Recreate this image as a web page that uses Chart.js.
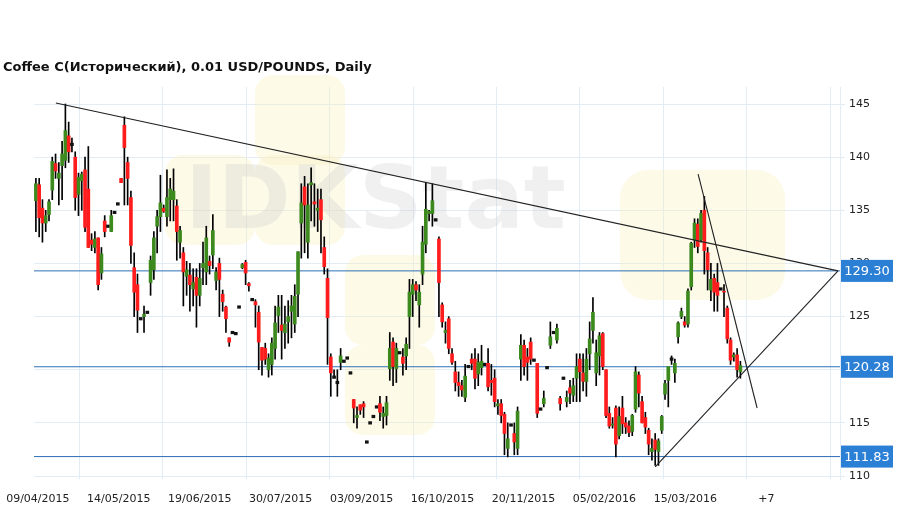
<!DOCTYPE html>
<html><head><meta charset="utf-8">
<script src="https://cdn.jsdelivr.net/npm/chart.js@4"></script>
<style>
html,body{margin:0;padding:0;background:#fff;}
#wrap{position:absolute;left:0;top:0;width:909px;height:509px;}
#title{position:absolute;left:3px;top:59px;font:bold 13px "DejaVu Sans",sans-serif;color:#111;}
</style></head><body>
<div id="wrap"><canvas id="c" width="909" height="509"></canvas></div>
<div id="title">Coffee C(Исторический), 0.01 USD/POUNDS, Daily</div>
<script>
const opens=[135.9,137.4,135.2,133.8,134.6,136.9,139.4,138,139.2,139.7,
142,141.2,140,136.5,137.8,138.8,137,132.2,131.5,132.4,
129.1,134,133.5,133,134.8,135.6,138,143,139.5,136.2,
129.6,128,124.8,125,125.4,128.2,129.4,133.5,134.4,135.2,
134.4,136,136,135.4,132,131,128.8,128.9,127.6,128.7,
127,129.6,129.2,130.2,130.8,128.4,130,127.1,125.9,123,
123.5,123.4,125.9,129.6,130.1,128.1,126.6,126.4,125.4,122.1,
122,120,120.5,122,125.1,124.2,123.5,124.5,125.5,124.3,
127.1,133.8,137.2,132,137.4,135.8,135,136,131.5,128.6,
121.2,119.3,118.8,120.7,120.8,121.1,119.7,117.2,115.5,116.7,
116.8,113.2,115,115.6,116.5,116.8,115.6,115.7,120.1,122.6,
120.1,121.6,121.2,121.3,125,127.1,128,126.1,129,131.8,
134.7,134.7,134.1,132.3,126.1,123.5,124.8,121.5,119.8,118.8,
118.5,117.4,120.3,121,121,119.6,120.2,120.5,120.6,119,
119.2,116.6,116.8,115.8,112.6,114.8,114,112.6,121,122.3,
121.2,122.6,120.9,120.6,116.3,116.8,120.2,122.3,123.5,122.8,
117.3,119.2,117,118.3,117.6,119.2,121,119.7,118.9,121.5,
123.7,119.7,121.3,123.4,120,115.9,114.8,116.4,113.8,116.4,
115,114.7,114.2,116.3,119.5,117,115.5,114.3,112.3,113.4,
112.3,114.3,117.7,119,121,119.7,123.1,125,124.5,124.3,
127.8,132.2,133.7,132.2,135,131,127.5,128.6,128.2,127.6,
127.4,125.8,122.8,121.2,121.4,119.8];
const closes=[137.5,134.3,133.8,134.5,135.8,139.6,138.7,138.5,140.3,142.5,
140.5,141.2,136.2,138.1,138.4,133.4,131.5,131.8,132.3,128,
130.9,133,133.5,134.5,134.8,135.6,137.6,140.9,138,131.7,
127.3,125.6,124.8,125.2,125.4,130.3,132.4,134.4,135.7,134.9,
136.2,137,136.8,133,133.1,129.2,129.4,128,128.2,127,
128.6,130,132.4,129.8,133.1,129.2,128.5,126.4,124.8,122.6,
123.5,123.4,125.9,129.9,129.1,127.9,126.6,126.1,122.6,120.9,
121,121.1,122.5,124.4,125.9,123.7,124.3,125,126,126.9,
131.1,135.7,135.5,135.5,137.6,135.6,135.2,134.1,129.7,124.9,
119.7,119.3,118.8,121.3,120.8,121.1,119.7,116.4,115.7,116.2,
116.5,113.2,115,115.6,116.5,116,115.9,116.9,122,120.3,
122,121.6,120.6,122.4,127.3,128,127.5,127.3,132,135.1,
134.9,135.9,134.1,128.2,124.5,123.7,122,120.7,118.8,118.5,
118.1,119.4,120.3,120.6,119.2,120.7,120.8,120.5,118.4,118.8,
117,116.8,115.7,114,113.5,114.8,113.2,116.1,122.3,120.3,
120.7,121,120.9,115.9,116.3,117.3,120.2,123.1,123.5,123.9,
116.8,119.2,117.4,117.8,118.5,120.3,119.8,118.9,121,122.9,
125.4,121.6,123.2,120.3,115.7,114.7,114.9,113,115.6,114.9,
114.6,114.1,115.7,119.8,117.8,115,114.6,113,112.6,112.5,
113.3,115.6,118.7,120.3,121,120.6,124.4,125.5,124.2,127.4,
131.9,133.8,131.6,134.7,131.2,129.4,128.5,127.3,127,127.6,
127.3,122.9,120.9,121.4,120,120.4];
const highs=[138,138,136,135,136,140,140.3,139.5,141.5,145,
143.3,141.8,140.5,138.5,138.6,140,141,132.8,133,132.4,
131.5,134.5,133.5,135,134.8,135.6,138,143.8,140,136.8,
131,129,124.8,126,125.4,130.7,133,135,138.3,135.5,
138.8,138,138.9,136,133.5,131.5,130.2,130,129.5,129.5,
130,132,133.5,130.7,134.6,129.6,130.5,127.5,126,123,
123.5,123.4,125.9,130,130.3,128.2,126.6,126.6,126,122.1,
122.5,121.5,123,126,127,127,126,126.5,127,128,
131.1,137.5,138.2,137.5,139,137.5,137,137,132.5,129.5,
121.5,120,120,122,120.8,121.1,119.7,117.2,116.5,116.7,
117,113.2,115,115.6,116.5,117.5,116.5,117.5,123.5,123,
122.5,121.6,122,123,128.5,128.5,128.3,128,133.5,137.6,
135,137.5,134.1,132.5,126.3,124.5,125,122,120.8,119.8,
119,120.5,120.3,121.5,122,121.5,122.3,120.5,122,120.5,
120,117.2,117.2,116,115,114.8,115,116.5,123.3,122.8,
122,123,120.9,120.6,116.3,118,120.2,124.5,123.5,124.3,
117.5,119.2,118,119,119.2,121.5,121.5,121.5,122,124.5,
126.8,122.8,123.5,123.5,120,116.5,115.5,116.6,116.5,117.5,
115.5,115.2,115.8,120.3,119.8,117.5,116,114.5,113.5,114,
113.5,115.7,119,120,121.3,121,124.5,125.8,125,127.6,
132,134.2,134.2,135,136.3,131.5,130,129,130,127.6,
128,126,123,121.6,122,120.8];
const lows=[133,132.5,132,133,134,136,138,135.5,136,139,
139.5,140.5,135,134.5,135,133,131.5,131.2,131,127.5,
128.5,132.5,133.5,133,134.8,135.6,137.6,135.5,135.5,130,
125,123.5,124.8,123.5,125.4,127,128.5,131,133,134.8,
133.5,134,134,130.3,130.5,126,127,125.5,126,124,
126,128,128,129,129.5,127.5,125,125.5,123.5,122.2,
123.5,123.4,125.9,129.5,128,127.4,126.6,124,120,119.5,
120.5,119.3,119.5,121,123.5,121,122,122.5,123,123.5,
125,130.5,131,130.5,134,133.5,133,131,129,120.5,
117.5,119.3,117.5,120,120.8,121.1,119.7,115,114.5,115.8,
115.5,113.2,115,115.6,116.5,115.2,114.5,114.8,119,118.5,
118.8,121.6,119.5,120,122,125,126.5,124,128,131,
134,133.5,134.1,125,124,122.5,121.5,120.5,118,117.5,
117.5,117,120.3,120,118.2,118.5,119.5,120.5,118,117.6,
116.5,115.8,115,112,111.8,114.8,112,112,119,119.5,
119,120.5,120.9,115.5,116.3,116.5,120.2,122,123.5,122.5,
116.2,119.2,116.5,116.8,117,117,117,118,117.5,120,
122.5,118.5,119.5,120,115.5,114.5,114.5,111.8,113.5,114,
114,113.7,113.8,116,116.5,115,114,112,111.5,111,
111,114,117.2,116.5,120.5,118.8,122.5,124.8,124,124,
127.5,131.5,131,132,129,127.5,126.5,125.5,125.5,127.6,
125,122.5,120.5,120.8,119.3,119.2];
const xLabels=["09/04/2015","14/05/2015","19/06/2015","30/07/2015","03/09/2015","16/10/2015","20/11/2015","05/02/2016","15/03/2016","+7"];
const yTicks=[110,115,120,125,130,135,140,145];
const levels=[129.30,120.28,111.83];
const trendA=[{x:6.1,y:145.1},{x:244.8,y:129.3}];
const trendB=[{x:189,y:110.85},{x:244.8,y:129.3}];
const trendC=[{x:202.1,y:138.4},{x:220.1,y:116.4}];

const X_MIN=-0.61, X_MAX=245.4;
const GREEN='#3c8a1e', RED='#ff1c1c';
const bodies=[], wicks=[], bodyColors=[];
for(let i=0;i<opens.length;i++){
  const o=opens[i], c=closes[i];
  if(o===c){bodies.push({x:i,y:[c-0.12,c+0.12]});bodyColors.push('#111');}
  else {bodies.push({x:i,y:[Math.min(o,c),Math.max(o,c)]});bodyColors.push(c>o?GREEN:RED);}
  wicks.push({x:i,y:[lows[i],highs[i]]});
}
const levelSets=levels.map(v=>({type:'line',data:[{x:X_MIN,y:v},{x:X_MAX,y:v}],borderColor:'#2e6fb7',borderWidth:1,pointRadius:0,order:5}));
const trendSet=d=>({type:'line',data:d,borderColor:'#222',borderWidth:1.1,pointRadius:0,order:0});

const bgPlugin={id:'bg',beforeDatasetsDraw(ch){
  const {ctx,chartArea:a}=ch;ctx.save();
  ctx.fillStyle='rgba(250,240,190,0.35)';
  const rr=(x,y,w,h,r)=>{ctx.beginPath();ctx.roundRect(x,y,w,h,r);ctx.fill();};
  rr(255,75,90,90,18);rr(165,155,90,90,18);rr(255,155,90,90,18);rr(345,255,90,90,18);rr(345,345,90,90,18);rr(620,170,165,130,28);
  ctx.fillStyle='rgba(200,200,200,0.28)';
  ctx.font='bold 88px "DejaVu Sans"';ctx.textBaseline='middle';
  ctx.fillText('IDKStat',185,205);
  ctx.restore();
}};
const labelPlugin={id:'lv',afterDraw(ch){
  const {ctx}=ch;const y=ch.scales.y;ctx.save();
  levels.forEach(v=>{const py=y.getPixelForValue(v);
    ctx.fillStyle='#2b7fd4';ctx.fillRect(841,py-11,52,22);
    ctx.fillStyle='#fff';ctx.font='13px "DejaVu Sans"';ctx.textAlign='center';ctx.textBaseline='middle';
    ctx.fillText(v.toFixed(2),867,py+1);});
  ctx.restore();
}};

new Chart(document.getElementById('c'),{
  type:'bar',
  data:{datasets:[
    {data:wicks,backgroundColor:'#000',barThickness:1,grouped:false,order:3},
    {data:bodies,backgroundColor:bodyColors,barThickness:3,grouped:false,order:2},
    ...levelSets,trendSet(trendA),trendSet(trendB),trendSet(trendC)
  ]},
  options:{responsive:false,animation:false,
    layout:{padding:{left:33,top:87,right:0,bottom:0}},
    plugins:{legend:{display:false},tooltip:{enabled:false}},
    scales:{
      x:{type:'linear',min:X_MIN,max:X_MAX,offset:false,position:'bottom',
        afterFit(s){s.height=30;},
        afterBuildTicks(s){s.ticks=xLabels.map((l,k)=>({value:0.6+k*24.7}));},
        grid:{display:false},border:{display:false},
        ticks:{autoSkip:false,maxRotation:0,color:'#222',font:{family:'DejaVu Sans',size:11},padding:6,
          callback:(v,k)=>xLabels[k]}},
      xg:{type:'linear',min:X_MIN,max:X_MAX,offset:false,position:'bottom',
        afterFit(s){s.height=0;},
        afterBuildTicks(s){const t=[];for(let k=0;k<10;k++)t.push({value:0.6+k*25.45});s.ticks=t;},
        grid:{color:'#e2ecf5',drawTicks:false},border:{display:false},ticks:{display:false}},
      y:{position:'right',min:109.72,max:146.6,
        afterFit(s){s.width=69;},
        afterBuildTicks(s){s.ticks=yTicks.map(v=>({value:v}));},
        grid:{color:'#e2ecf5',tickLength:5},border:{color:'#e2ecf5'},
        ticks:{color:'#222',font:{family:'DejaVu Sans',size:11},padding:4}}
    }},
  plugins:[bgPlugin,labelPlugin]
});
</script></body></html>
